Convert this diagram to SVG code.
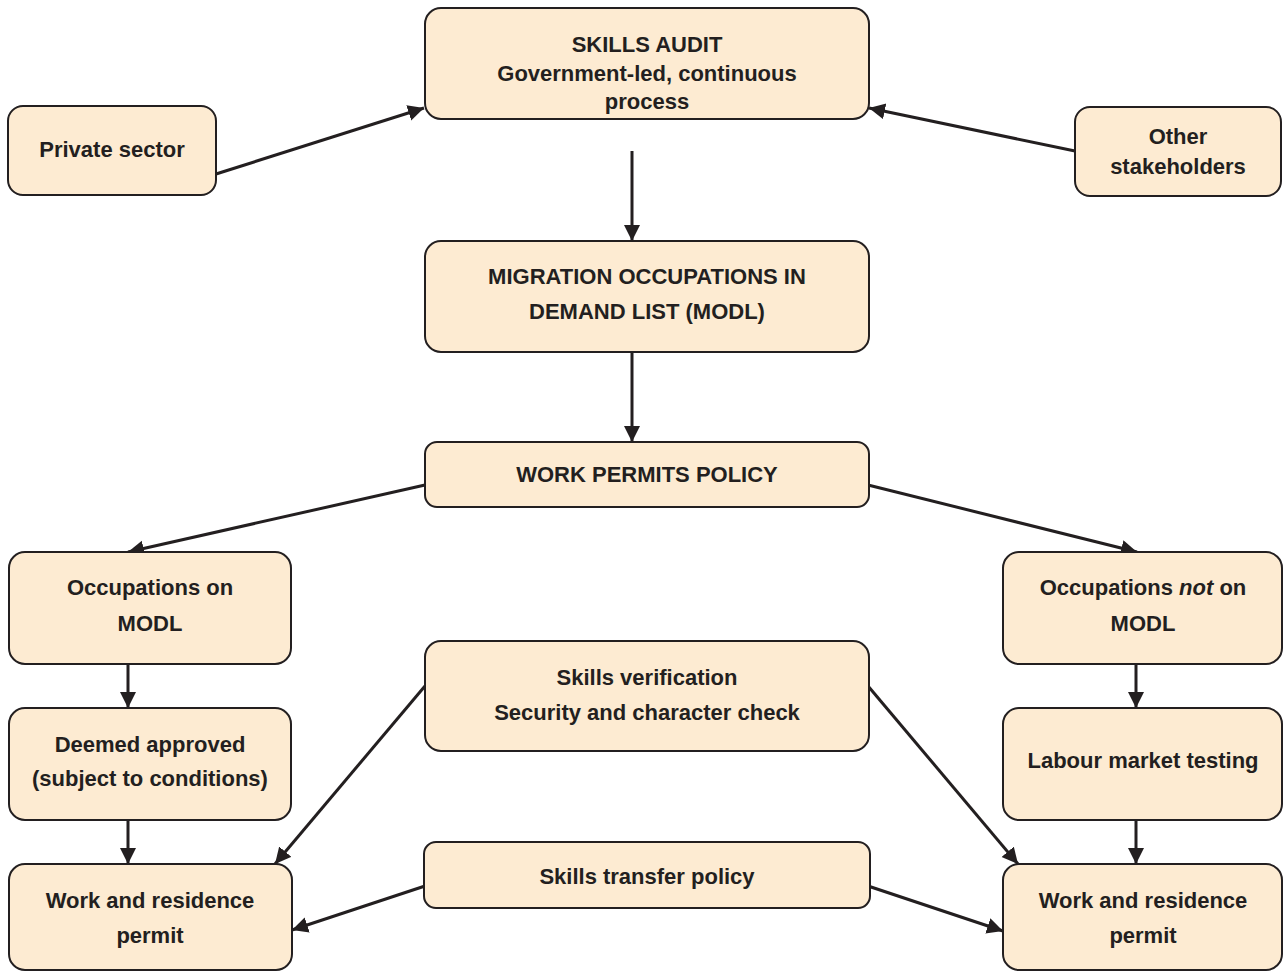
<svg xmlns="http://www.w3.org/2000/svg" width="1285" height="974" viewBox="0 0 1285 974">
  <style>
    .box { fill: #fdebd2; stroke: #231f20; stroke-width: 2; }
    .lbl { font-family: "Liberation Sans", Arial, sans-serif; font-weight: bold; font-size: 22px; fill: #231f20; text-anchor: middle; }
    .conn { stroke: #231f20; stroke-width: 3; fill: none; marker-end: url(#arrow); }
  </style>
  <defs>
    <marker id="arrow" markerUnits="userSpaceOnUse" markerWidth="18" markerHeight="18" refX="16" refY="8" orient="auto">
      <path d="M0,0 L16,8 L0,16 Z" fill="#231f20"/>
    </marker>
  </defs>
  <rect width="1285" height="974" fill="#ffffff"/>

  <!-- connectors -->
  <g id="connectors">
    <line class="conn" x1="216" y1="174" x2="424" y2="108"/>
    <line class="conn" x1="1075" y1="151" x2="869" y2="108"/>
    <line class="conn" x1="632" y1="151" x2="632" y2="241"/>
    <line class="conn" x1="632" y1="352" x2="632" y2="442"/>
    <line class="conn" x1="425" y1="485" x2="128" y2="552"/>
    <line class="conn" x1="868" y1="485" x2="1137" y2="552"/>
    <line class="conn" x1="128" y1="664" x2="128" y2="708"/>
    <line class="conn" x1="128" y1="820" x2="128" y2="864"/>
    <line class="conn" x1="1136" y1="664" x2="1136" y2="708"/>
    <line class="conn" x1="1136" y1="820" x2="1136" y2="864"/>
    <line class="conn" x1="425" y1="686" x2="275" y2="864"/>
    <line class="conn" x1="868" y1="686" x2="1018" y2="864"/>
    <line class="conn" x1="425" y1="886" x2="292" y2="930"/>
    <line class="conn" x1="868" y1="886" x2="1003" y2="931"/>
  </g>

  <g id="private-sector">
    <rect class="box" x="8" y="106" width="208" height="89" rx="15"/>
    <text class="lbl" x="112" y="157">Private sector</text>
  </g>

  <g id="skills-audit">
    <rect class="box" x="425" y="8" width="444" height="111" rx="16"/>
    <text class="lbl" x="647" y="52">SKILLS AUDIT</text>
    <text class="lbl" x="647" y="81">Government-led, continuous</text>
    <text class="lbl" x="647" y="109">process</text>
  </g>

  <g id="other-stakeholders">
    <rect class="box" x="1075" y="107" width="206" height="89" rx="15"/>
    <text class="lbl" x="1178" y="144">Other</text>
    <text class="lbl" x="1178" y="174">stakeholders</text>
  </g>

  <g id="modl">
    <rect class="box" x="425" y="241" width="444" height="111" rx="16"/>
    <text class="lbl" x="647" y="284">MIGRATION OCCUPATIONS IN</text>
    <text class="lbl" x="647" y="319">DEMAND LIST (MODL)</text>
  </g>

  <g id="work-permits-policy">
    <rect class="box" x="425" y="442" width="444" height="65" rx="12"/>
    <text class="lbl" x="647" y="482">WORK PERMITS POLICY</text>
  </g>

  <g id="occupations-on-modl">
    <rect class="box" x="9" y="552" width="282" height="112" rx="16"/>
    <text class="lbl" x="150" y="595">Occupations on</text>
    <text class="lbl" x="150" y="631">MODL</text>
  </g>

  <g id="occupations-not-on-modl">
    <rect class="box" x="1003" y="552" width="279" height="112" rx="16"/>
    <text class="lbl" x="1143" y="595">Occupations <tspan font-style="italic">not</tspan> on</text>
    <text class="lbl" x="1143" y="631">MODL</text>
  </g>

  <g id="skills-verification">
    <rect class="box" x="425" y="641" width="444" height="110" rx="16"/>
    <text class="lbl" x="647" y="685">Skills verification</text>
    <text class="lbl" x="647" y="720">Security and character check</text>
  </g>

  <g id="deemed-approved">
    <rect class="box" x="9" y="708" width="282" height="112" rx="16"/>
    <text class="lbl" x="150" y="752">Deemed approved</text>
    <text class="lbl" x="150" y="786">(subject to conditions)</text>
  </g>

  <g id="labour-market-testing">
    <rect class="box" x="1003" y="708" width="279" height="112" rx="16"/>
    <text class="lbl" x="1143" y="768">Labour market testing</text>
  </g>

  <g id="skills-transfer-policy">
    <rect class="box" x="424" y="842" width="446" height="66" rx="12"/>
    <text class="lbl" x="647" y="884">Skills transfer policy</text>
  </g>

  <g id="work-residence-left">
    <rect class="box" x="9" y="864" width="283" height="106" rx="16"/>
    <text class="lbl" x="150" y="908">Work and residence</text>
    <text class="lbl" x="150" y="943">permit</text>
  </g>

  <g id="work-residence-right">
    <rect class="box" x="1003" y="864" width="279" height="106" rx="16"/>
    <text class="lbl" x="1143" y="908">Work and residence</text>
    <text class="lbl" x="1143" y="943">permit</text>
  </g>
</svg>
